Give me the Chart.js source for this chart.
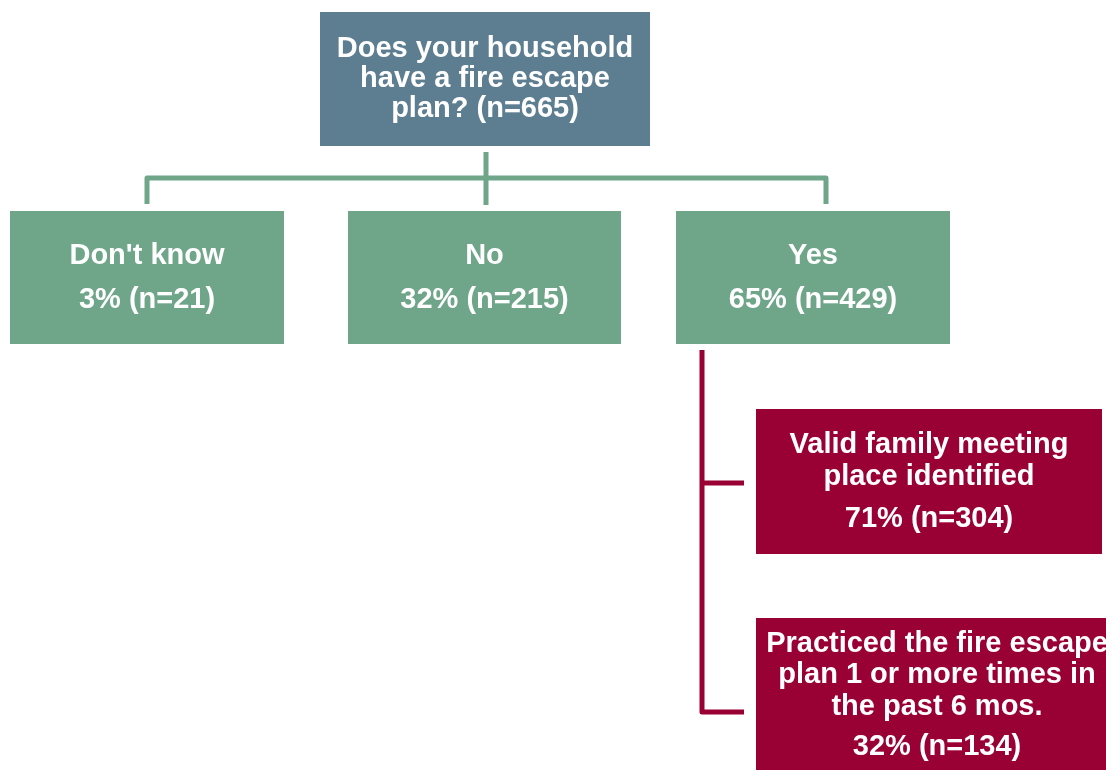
<!DOCTYPE html>
<html>
<head>
<meta charset="utf-8">
<script src="https://cdn.jsdelivr.net/npm/chart.js@4.4.1/dist/chart.umd.min.js"></script>
<style>
  html, body { margin: 0; padding: 0; background: #ffffff; }
  #wrap { width: 1106px; height: 770px; position: relative; overflow: hidden; }
</style>
</head>
<body>
<div id="wrap"><canvas id="tree"></canvas></div>
<script>
// survey numbers
const question = "Does your household\nhave a fire escape\nplan?";
const totalN = 665;
const answers = ["Don't know", "No", "Yes"];
const answerPct = [3, 32, 65];
const answerN = [21, 215, 429];
const followUps = ["Valid family meeting\nplace identified", "Practiced the fire escape\nplan 1 or more times in\nthe past 6 mos."];
const followPct = [71, 32];
const followN = [304, 134];

// layout (in scale units, 1 unit = 1px)
const rootBox = [320, 650, 12, 146];
const answerBoxes = [[10, 284, 211, 344], [348, 621, 211, 344], [676, 950, 211, 344]];
const followBoxes = [[756, 1102, 409, 554], [756, 1118, 618, 775]];
const rootLines = [48, 78, 108];
const answerLines = [255, 299];
const followLines = [[444, 476, 518], [643, 674, 706, 746]];

const blueCol = "#5d7e91";
const greenCol = "#6fa589";
const redCol = "#990033";
const fontStr = 'bold 29px "Liberation Sans", Arial, sans-serif';

const treePlugin = {
  id: "treePlugin",
  afterDraw(chart) {
    const ctx = chart.ctx;
    const sx = chart.scales.x, sy = chart.scales.y;
    const px = v => sx.getPixelForValue(v);
    const py = v => sy.getPixelForValue(v);

    function box(b, col) {
      ctx.fillStyle = col;
      ctx.fillRect(px(b[0]), py(b[2]), px(b[1]) - px(b[0]), py(b[3]) - py(b[2]));
    }
    function text(lines, ys, cx) {
      ctx.fillStyle = "#ffffff";
      ctx.font = fontStr;
      ctx.textAlign = "center";
      ctx.textBaseline = "middle";
      lines.forEach((t, i) => ctx.fillText(t, px(cx), py(ys[i]) + 1));
    }
    function path(pts, col) {
      ctx.strokeStyle = col;
      ctx.lineWidth = 5;
      ctx.lineJoin = "round";
      ctx.lineCap = "butt";
      ctx.beginPath();
      pts.forEach((p, i) => i ? ctx.lineTo(px(p[0]), py(p[1])) : ctx.moveTo(px(p[0]), py(p[1])));
      ctx.stroke();
    }

    ctx.save();
    // green connectors
    path([[486, 152], [486, 205]], greenCol);
    path([[147, 204], [147, 178], [826, 178], [826, 204]], greenCol);
    // red connectors
    path([[702, 350], [702, 712], [744, 712]], redCol);
    path([[702, 483], [744, 483]], redCol);

    // root question
    box(rootBox, blueCol);
    const rootText = (question + " (n=" + totalN + ")").split("\n");
    text(rootText, rootLines, (rootBox[0] + rootBox[1]) / 2);

    // first level answers
    answers.forEach((a, i) => {
      const b = answerBoxes[i];
      box(b, greenCol);
      text([a, answerPct[i] + "% (n=" + answerN[i] + ")"], answerLines, (b[0] + b[1]) / 2);
    });

    // follow-up among "Yes"
    followUps.forEach((f, i) => {
      const b = followBoxes[i];
      box(b, redCol);
      const lines = f.split("\n").concat([followPct[i] + "% (n=" + followN[i] + ")"]);
      text(lines, followLines[i], (b[0] + b[1]) / 2);
    });
    ctx.restore();
  }
};

new Chart(document.getElementById("tree"), {
  type: "scatter",
  data: { datasets: [{ data: [], pointRadius: 0 }] },
  options: {
    responsive: true,
    maintainAspectRatio: false,
    animation: false,
    layout: { padding: 0 },
    plugins: { legend: { display: false }, tooltip: { enabled: false } },
    scales: {
      x: { type: "linear", min: 0, max: 1106, display: false },
      y: { type: "linear", min: 0, max: 770, reverse: true, display: false }
    }
  },
  plugins: [treePlugin]
});
</script>
</body>
</html>
